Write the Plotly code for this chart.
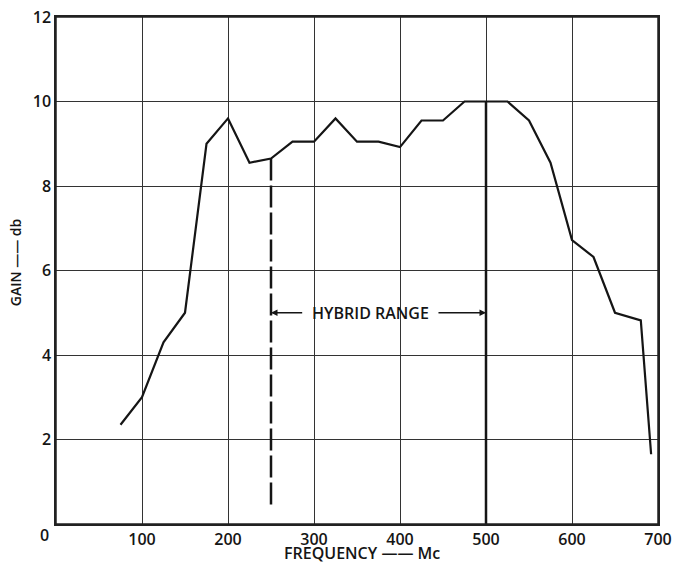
import plotly.graph_objects as go

# Data
freq_mc = [75, 100, 125, 150, 175, 200, 225, 250, 275, 300, 325, 350, 375, 400,
           425, 450, 475, 500, 525, 550, 575, 600, 625, 650, 680, 692]
gain_db = [2.35, 3.0, 4.3, 5.0, 9.0, 9.6, 8.55, 8.65, 9.05, 9.05, 9.6, 9.05, 9.05, 8.92,
           9.55, 9.55, 10.0, 10.0, 10.0, 9.55, 8.55, 6.72, 6.32, 5.0, 4.82, 1.65]

hybrid_low = [250, 250]
hybrid_low_y = [8.65, 0.35]
hybrid_high = [500, 500]
hybrid_high_y = [10.0, 0.0]
hybrid_label = "HYBRID RANGE"
hybrid_label_y = 5.0

x_ticks = [100, 200, 300, 400, 500, 600, 700]
y_ticks = [2, 4, 6, 8, 10, 12]

FONT = "Open Sans"
INK = "#151515"

fig = go.Figure()

fig.add_trace(go.Scatter(x=freq_mc, y=gain_db, mode="lines",
                         line=dict(color=INK, width=2.2), showlegend=False,
                         hoverinfo="skip"))
fig.add_trace(go.Scatter(x=hybrid_low, y=hybrid_low_y, mode="lines",
                         line=dict(color=INK, width=2.5, dash="22px,5px"),
                         showlegend=False, hoverinfo="skip"))
fig.add_trace(go.Scatter(x=hybrid_high, y=hybrid_high_y, mode="lines",
                         line=dict(color=INK, width=2.5),
                         showlegend=False, hoverinfo="skip"))

annotations = [
    dict(x=366, y=hybrid_label_y, xref="x", yref="y", text=hybrid_label, showarrow=False,
         font=dict(family=FONT, size=16, color=INK, weight=600), xanchor="center",
         yanchor="middle"),
    dict(x=hybrid_low[0], y=hybrid_label_y, ax=288, ay=hybrid_label_y, xref="x", yref="y",
         axref="x", ayref="y", text="", showarrow=True, arrowhead=2, arrowsize=1,
         arrowwidth=1.3, arrowcolor=INK),
    dict(x=hybrid_high[0], y=hybrid_label_y, ax=443, ay=hybrid_label_y, xref="x", yref="y",
         axref="x", ayref="y", text="", showarrow=True, arrowhead=2, arrowsize=1,
         arrowwidth=1.3, arrowcolor=INK),
    dict(x=0.508, y=-0.058, xref="paper", yref="paper", text="FREQUENCY —— Mc",
         showarrow=False, font=dict(family=FONT, size=16, color=INK, weight=600),
         xanchor="center", yanchor="middle"),
    dict(x=-0.066, y=0.517, xref="paper", yref="paper", text="GAIN —— db",
         showarrow=False, textangle=-90, font=dict(family=FONT, size=14, color=INK, weight=600),
         xanchor="center", yanchor="middle"),
    dict(x=-0.019, y=-0.021, xref="paper", yref="paper", text="0",
         showarrow=False, font=dict(family=FONT, size=16, color=INK, weight=600),
         xanchor="center", yanchor="middle"),
]

fig.update_layout(
    width=675, height=564,
    margin=dict(l=56, r=17, t=17, b=40),
    paper_bgcolor="white", plot_bgcolor="white",
    annotations=annotations,
    font=dict(family=FONT, size=16, color=INK),
    shapes=[dict(type="rect", xref="paper", yref="paper", x0=0, y0=0, x1=1, y1=1,
                 line=dict(color="#222", width=1.5), layer="above")],
)
tickfont = dict(family=FONT, size=16, color=INK, weight=600)
fig.update_xaxes(range=[0, 700], tickvals=x_ticks, ticktext=[str(v) for v in x_ticks],
                 showgrid=True, gridcolor="#333", gridwidth=1,
                 showline=True, linecolor="#222", linewidth=1.5, mirror=True,
                 zeroline=False, ticks="", tickfont=tickfont, ticklabeloverflow="allow",
                 automargin=False)
fig.update_yaxes(range=[0, 12], tickvals=y_ticks, ticktext=[str(v) for v in y_ticks],
                 showgrid=True, gridcolor="#333", gridwidth=1,
                 showline=True, linecolor="#222", linewidth=1.5, mirror=True,
                 zeroline=False, ticks="", tickfont=tickfont, ticklabeloverflow="allow",
                 automargin=False)

# remove the default 8px page margin so the figure fills the window exactly
fig.write_html("out.html", config={"displayModeBar": False},
               post_script="document.body.style.margin='0';document.body.style.overflow='hidden';")
